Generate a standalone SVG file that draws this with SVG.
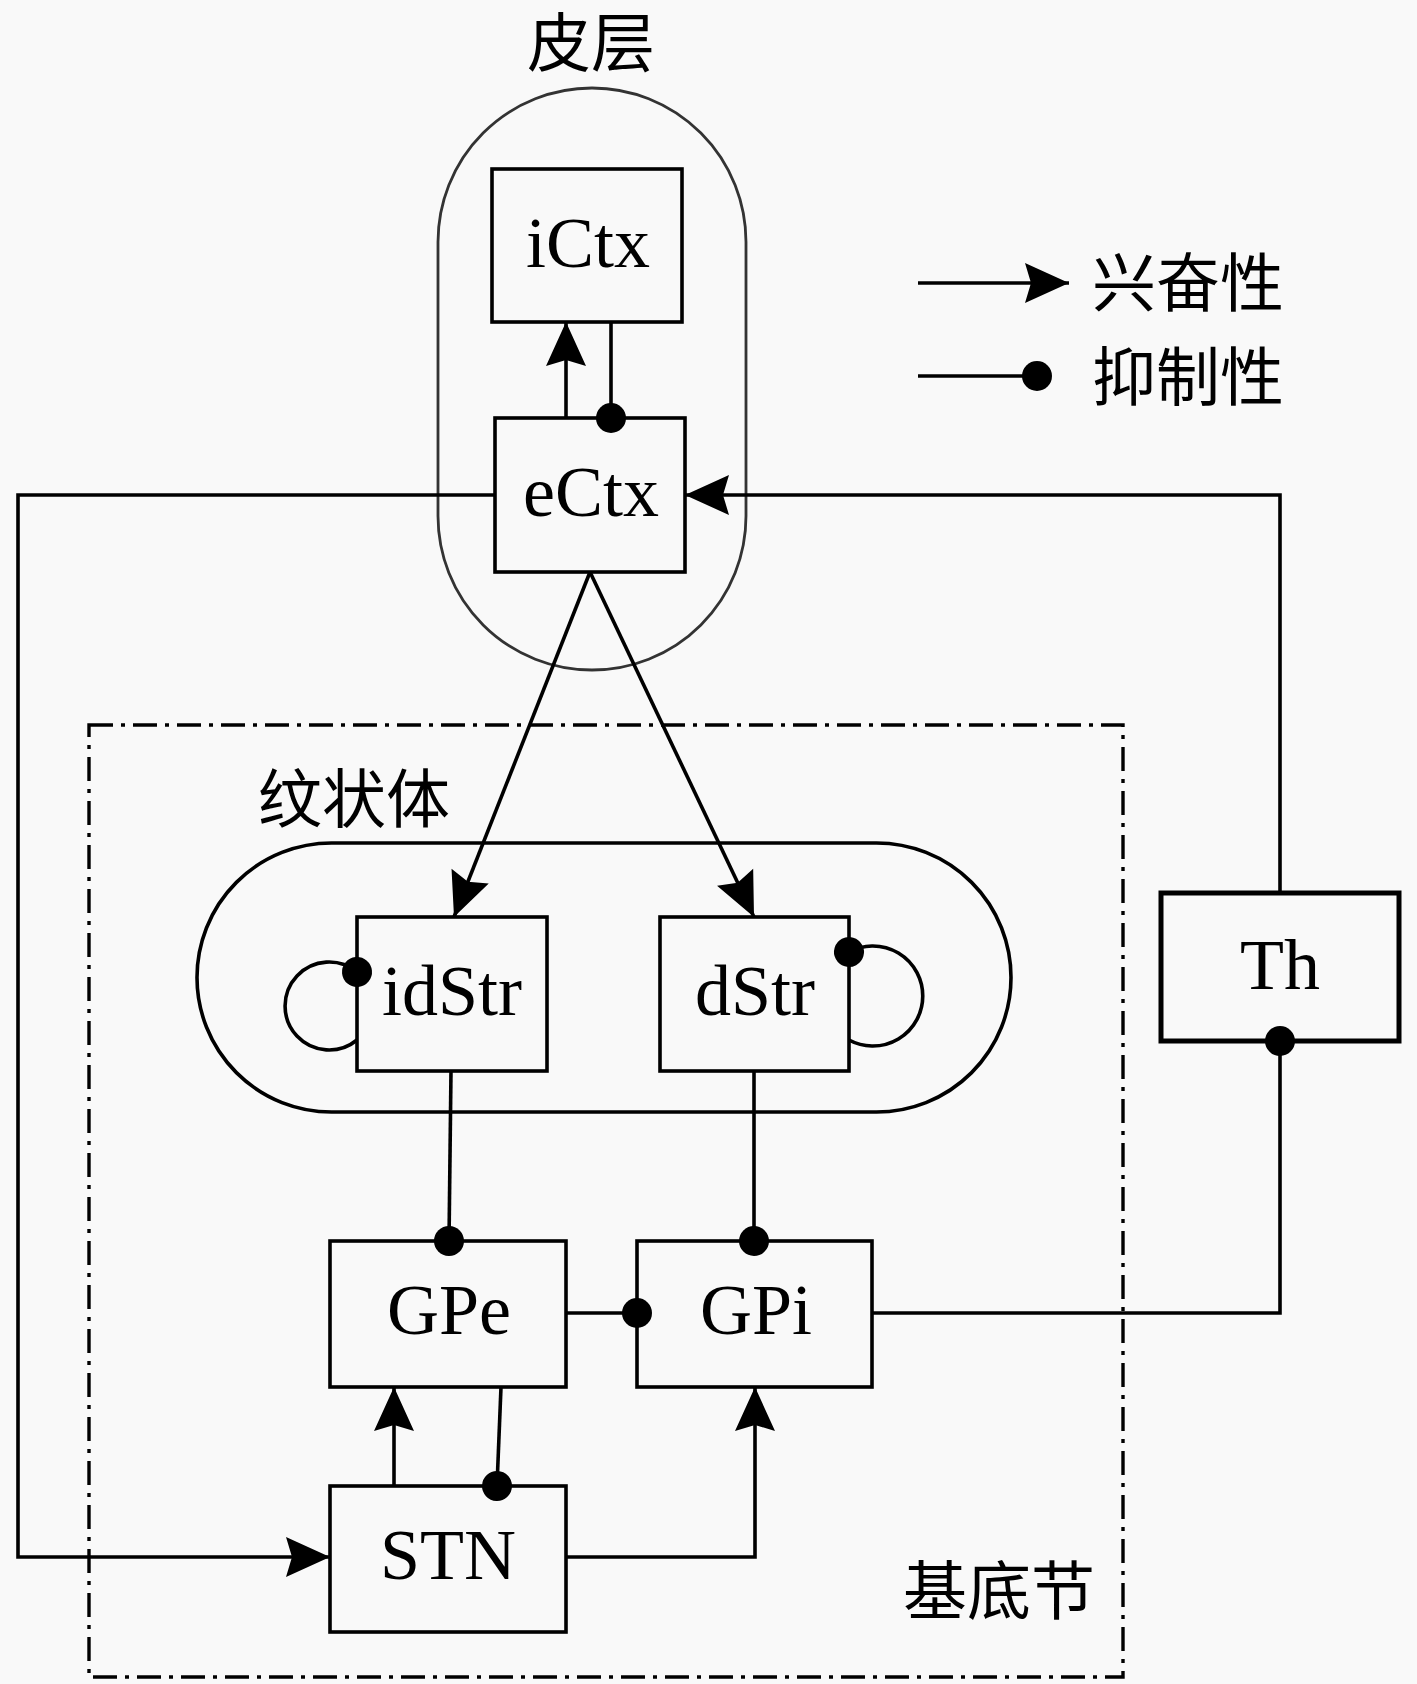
<svg xmlns="http://www.w3.org/2000/svg" width="1417" height="1684" viewBox="0 0 1417 1684">
<style>
.box{fill:none;stroke:#000;stroke-width:3.6}
.lbl{font-family:"Liberation Serif","Times New Roman",serif;font-size:72px;fill:#000;text-anchor:middle}
.cjk{font-family:"Noto Sans CJK SC","Noto Sans",sans-serif;font-size:64px;fill:#000}
.wire{fill:none;stroke:#000;stroke-width:3.6}
</style>
<defs>
<marker id="arr" markerUnits="userSpaceOnUse" markerWidth="50" markerHeight="44" viewBox="-46 -22 50 44" refX="0" refY="0" orient="auto">
<path d="M0,0 L-44,-20 L-38,0 L-44,20 Z" fill="#000"/>
</marker>
<marker id="dot" markerUnits="userSpaceOnUse" markerWidth="34" markerHeight="34" viewBox="-17 -17 34 34" refX="0" refY="0" orient="auto">
<circle cx="0" cy="0" r="15" fill="#000"/>
</marker>
</defs>
<rect x="0" y="0" width="1417" height="1684" fill="#f9f9f9"/>

<g id="cortex">
<rect x="438" y="88" width="308" height="582" rx="154" ry="154" fill="none" stroke="#333" stroke-width="2.8"/>
<text class="cjk" x="591" y="66" text-anchor="middle">皮层</text>
</g>

<g id="basal-ganglia">
<rect x="89" y="725" width="1034" height="952" fill="none" stroke="#000" stroke-width="3.4" stroke-dasharray="24,8,4,8"/>
<text class="cjk" x="999" y="1614" text-anchor="middle">基底节</text>
</g>

<g id="striatum">
<rect x="197" y="843" width="814" height="269" rx="134.5" ry="134.5" fill="none" stroke="#000" stroke-width="3.6"/>
<text class="cjk" x="354" y="822" text-anchor="middle">纹状体</text>
</g>

<g id="iCtx"><rect class="box" x="492" y="169" width="190" height="153"/><text class="lbl" x="588" y="267">iCtx</text></g>
<g id="eCtx"><rect class="box" x="495" y="418" width="190" height="154"/><text class="lbl" x="591" y="516">eCtx</text></g>
<g id="idStr"><rect class="box" x="357" y="917" width="190" height="154"/><text class="lbl" x="452" y="1015">idStr</text></g>
<g id="dStr"><rect class="box" x="660" y="917" width="189" height="154"/><text class="lbl" x="755" y="1015">dStr</text></g>
<g id="GPe"><rect class="box" x="330" y="1241" width="236" height="146"/><text class="lbl" x="449" y="1334">GPe</text></g>
<g id="GPi"><rect class="box" x="637" y="1241" width="235" height="146"/><text class="lbl" x="756" y="1334">GPi</text></g>
<g id="STN"><rect class="box" x="330" y="1486" width="236" height="146"/><text class="lbl" x="448" y="1579">STN</text></g>
<g id="Th"><rect x="1161" y="893" width="238" height="148" fill="none" stroke="#000" stroke-width="5"/><text class="lbl" x="1280" y="989">Th</text></g>

<g id="legend">
<path class="wire" d="M918,283 H1069" marker-end="url(#arr)"/>
<text class="cjk" x="1092" y="306">兴奋性</text>
<path class="wire" d="M918,376 H1037" marker-end="url(#dot)"/>
<text class="cjk" x="1092" y="400">抑制性</text>
</g>

<g id="connectors">
<path class="wire" d="M566,418 V322" marker-end="url(#arr)"/>
<path class="wire" d="M611,322 V418" marker-end="url(#dot)"/>
<path class="wire" d="M1280,893 V495 H685" marker-end="url(#arr)"/>
<path class="wire" d="M495,495 H18 V1557 H330" marker-end="url(#arr)"/>
<path class="wire" d="M590,572 L454,917" marker-end="url(#arr)"/>
<path class="wire" d="M590,572 L754,917" marker-end="url(#arr)"/>
<path class="wire" d="M357,972 A44,44 0 1,0 357,1040" marker-start="url(#dot)"/>
<path class="wire" d="M849,952 A50,50 0 1,1 849,1040" marker-start="url(#dot)"/>
<path class="wire" d="M451,1071 L449,1241" marker-end="url(#dot)"/>
<path class="wire" d="M754,1071 V1241" marker-end="url(#dot)"/>
<path class="wire" d="M566,1313 H637" marker-end="url(#dot)"/>
<path class="wire" d="M872,1313 H1280 V1041" marker-end="url(#dot)"/>
<path class="wire" d="M394,1486 V1387" marker-end="url(#arr)"/>
<path class="wire" d="M501,1387 L497,1486" marker-end="url(#dot)"/>
<path class="wire" d="M566,1557 H755 V1387" marker-end="url(#arr)"/>
</g>
</svg>
